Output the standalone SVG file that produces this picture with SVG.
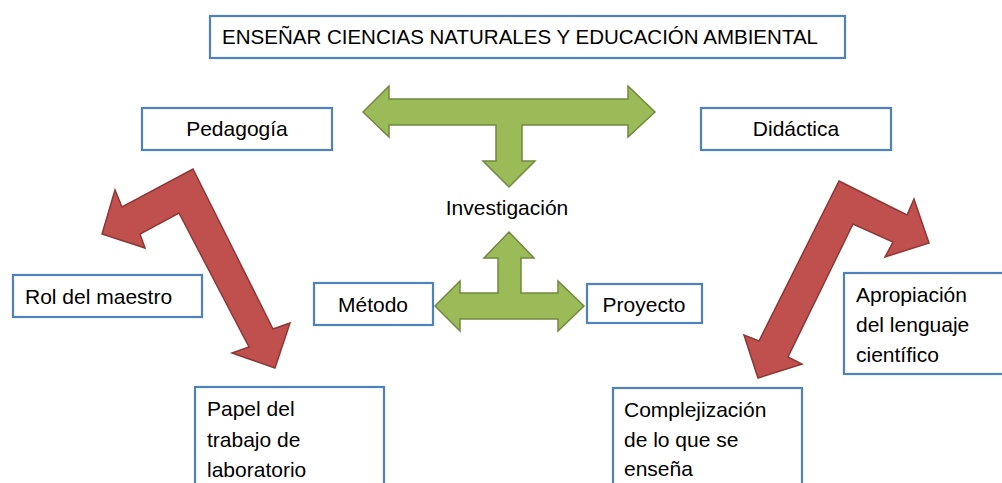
<svg xmlns="http://www.w3.org/2000/svg" width="1002" height="483" viewBox="0 0 1002 483">
<style>
.box{fill:#fff;stroke:#4F81BD;stroke-width:2.2}
.t{font-family:"Liberation Sans",Arial,sans-serif;font-size:21px;fill:#000}
.green{fill:#9BBB59;stroke:#71893F;stroke-width:1.5;stroke-linejoin:miter}
.red{fill:#C0504D;stroke:#8C3836;stroke-width:1.5;stroke-linejoin:miter}
</style>
<rect width="1002" height="483" fill="#fff"/>
<g id="connectors">
<path class="green" d="M363,112 L389,86 L389,99 L628,99 L628,86 L655,112 L628,137 L628,125 L522,125 L522,161 L535,161 L509,187 L483,161 L496,161 L496,125 L389,125 L389,137 Z"/>
<path class="green" d="M509,232 L534,258 L521,258 L521,293 L558,293 L558,281 L584,306 L558,331 L558,319 L460,319 L460,331 L435,306 L460,281 L460,293 L498,293 L498,258 L484,258 Z"/>
<path class="red" d="M193,169 L273,329 L290,323 L275,368 L232,353 L249,347 L179,213 L140,234 L145,248 L102,234 L115,190 L122,207 Z"/>
<path class="red" d="M839,181 L907,215 L914,199 L929,243 L885,257 L893,242 L853,224 L788,357 L802,364 L758,378 L744,335 L759,341 Z"/>
</g>
<g id="title">
<rect class="box" x="210" y="16" width="635" height="42"/>
<text class="t" x="222" y="44" textLength="596" lengthAdjust="spacingAndGlyphs">ENSEÑAR CIENCIAS NATURALES Y EDUCACIÓN AMBIENTAL</text>
</g>
<g id="pedagogia">
<rect class="box" x="142" y="108" width="190" height="42"/>
<text class="t" x="237" y="136" text-anchor="middle">Pedagogía</text>
</g>
<g id="didactica">
<rect class="box" x="701" y="108" width="190" height="42"/>
<text class="t" x="796" y="136" text-anchor="middle">Didáctica</text>
</g>
<g id="investigacion">
<text class="t" x="507" y="215" text-anchor="middle">Investigación</text>
</g>
<g id="rol">
<rect class="box" x="13" y="275" width="189" height="42"/>
<text class="t" x="25" y="304">Rol del maestro</text>
</g>
<g id="metodo">
<rect class="box" x="314" y="283" width="119" height="42"/>
<text class="t" x="373" y="312" text-anchor="middle">Método</text>
</g>
<g id="proyecto">
<rect class="box" x="587" y="284" width="115" height="39"/>
<text class="t" x="644" y="312" text-anchor="middle">Proyecto</text>
</g>
<g id="apropiacion">
<rect class="box" x="844" y="273" width="170" height="101"/>
<text class="t" x="856" y="302">Apropiación</text>
<text class="t" x="856" y="332">del lenguaje</text>
<text class="t" x="856" y="362">científico</text>
</g>
<g id="papel">
<rect class="box" x="195" y="387" width="189" height="110"/>
<text class="t" x="207" y="416">Papel del</text>
<text class="t" x="207" y="447">trabajo de</text>
<text class="t" x="207" y="477">laboratorio</text>
</g>
<g id="complejizacion">
<rect class="box" x="613" y="388" width="189" height="110"/>
<text class="t" x="624" y="417">Complejización</text>
<text class="t" x="624" y="447">de lo que se</text>
<text class="t" x="624" y="476">enseña</text>
</g>
</svg>
